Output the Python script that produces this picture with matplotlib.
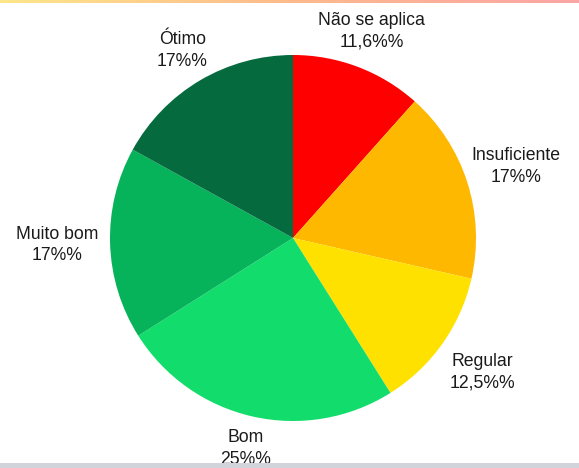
import numpy as np
import matplotlib.pyplot as plt
from matplotlib.colors import LinearSegmentedColormap

categories = ["Não se aplica", "Insuficiente", "Regular", "Bom", "Muito bom", "Ótimo"]
values = [11.6, 17, 12.5, 25, 17, 17]
value_labels = ["11,6%", "17%", "12,5%", "25%", "17%", "17%"]
colors = ["#ff0000", "#ffb800", "#ffe100", "#12dc6b", "#07b35a", "#056b3f"]
# how far each label sits from the centre, in pie radii
label_radius = [1.21, 1.28, 1.27, 1.18, 1.29, 1.19]

plt.rcParams["font.family"] = ["Liberation Sans", "DejaVu Sans"]

fig = plt.figure(figsize=(5.79, 4.68), dpi=100)
ax = fig.add_axes([0, 0, 1, 1])

wedges, _ = ax.pie(values, colors=colors, startangle=90, counterclock=False,
                   radius=1.0, wedgeprops={"linewidth": 0})

for w, name, lab, r in zip(wedges, categories, value_labels, label_radius):
    mid = np.deg2rad((w.theta1 + w.theta2) / 2)
    ax.text(r * np.cos(mid), r * np.sin(mid), f"{name}\n{lab}%",
            ha="center", va="center", fontsize=12.7, color="#1a1a1a",
            linespacing=1.35)

# pie centre at pixel (293, 238), radius 183 px
ax.set_xlim(-293 / 183, (579 - 293) / 183)
ax.set_ylim((238 - 468) / 183, 238 / 183)
ax.set_aspect("auto")
ax.axis("off")

# thin gradient strip on top, grey strip at the bottom
top = fig.add_axes([0, 1 - 3 / 468, 1, 3 / 468])
grad = LinearSegmentedColormap.from_list("g", ["#fde68a", "#fdba8c", "#fca5a5"])
top.imshow(np.linspace(0, 1, 256)[None, :], aspect="auto", cmap=grad)
top.axis("off")
bot = fig.add_axes([0, 0, 1, 5 / 468])
bot.set_facecolor("#d1d5db")
bot.set_xticks([])
bot.set_yticks([])
for s in bot.spines.values():
    s.set_visible(False)

fig.savefig("out.png", dpi=100)
